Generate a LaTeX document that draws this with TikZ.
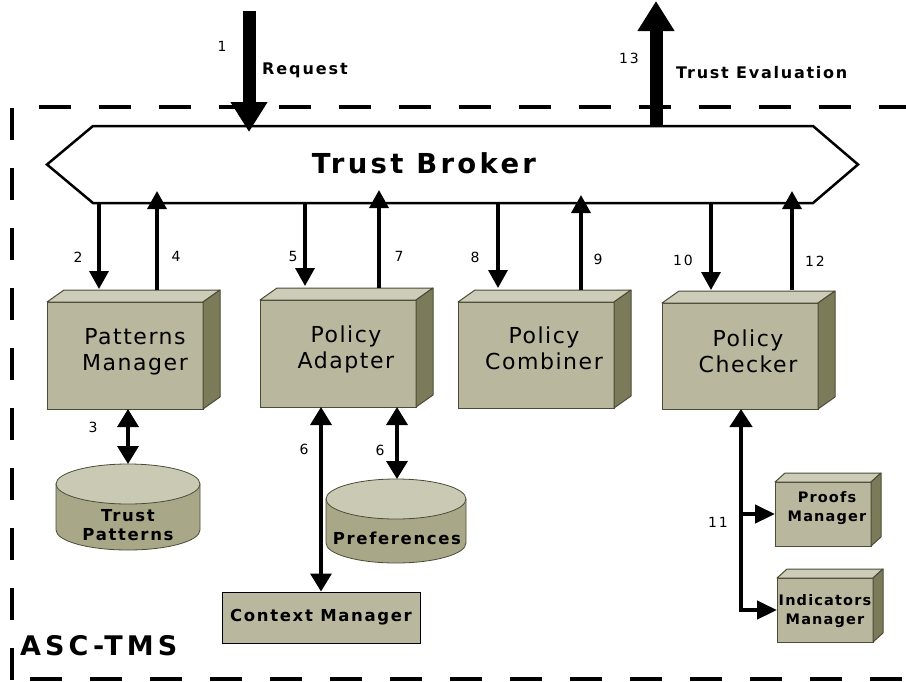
\documentclass[tikz,border=0pt]{standalone}
\usepackage{fontspec}
\setmainfont{DejaVu Sans}
\usetikzlibrary{arrows.meta,calc}
\definecolor{front}{RGB}{185,184,158}
\definecolor{topc}{RGB}{205,204,184}
\definecolor{sidec}{RGB}{124,123,89}
\definecolor{edge}{RGB}{75,75,56}
\definecolor{cyltop}{RGB}{202,202,180}
\definecolor{cylbody}{RGB}{168,168,136}
\newcommand\mkcube[3]{%
 \path[draw=edge,line width=1pt,fill=topc,line join=round] (#1.north west) -- ++(#2,-#3) -- ($(#1.north east)+(#2,-#3)$) -- (#1.north east) -- cycle;
 \path[draw=edge,line width=1pt,fill=sidec,line join=round] (#1.north east) -- ++(#2,-#3) -- ($(#1.south east)+(#2,-#3)$) -- (#1.south east) -- cycle;}
\newcommand\mkcyl[5]{% cx, left, right, ytop, ybot
 \path[draw=edge,line width=0.8pt,fill=cylbody] (#2,#4) -- (#2,#5) arc[start angle=180,end angle=0,x radius={(#3-#2)/2},y radius=20] -- (#3,#4) -- cycle;
 \path[draw=edge,line width=0.8pt,fill=cyltop] (#1,#4) ellipse[x radius={(#3-#2)/2},y radius=20];}
\begin{document}
\begin{tikzpicture}[x=1pt,y=-1pt,
  cubebox/.style={draw=edge,line width=1pt,fill=front,outer sep=0pt,inner sep=0pt},
  cubetext/.style={align=center,inner sep=0pt,font=\addfontfeature{LetterSpace=7}\fontsize{22}{26}\selectfont},
  smalltext/.style={align=center,inner sep=0pt,font=\addfontfeature{LetterSpace=8}\fontsize{14.5}{19}\selectfont\bfseries},
  sarrow/.style={line width=3.5pt,-{Triangle[width=19pt,length=18pt]}},
  darrow/.style={line width=3.5pt,{Triangle[width=21pt,length=18pt]}-{Triangle[width=21pt,length=18pt]}},
  barrow/.style={line width=13pt,-{Triangle[width=35pt,length=30pt]}},
  num/.style={font=\addfontfeature{LetterSpace=13}\fontsize{14}{16}\selectfont},
  blabel/.style={font=\addfontfeature{LetterSpace=10}\fontsize{16.5}{19}\selectfont\bfseries,align=center}]
\useasboundingbox (0,0) rectangle (906,681);
\begin{scope}
\clip (0,0) rectangle (906,681);
\draw[line width=4pt,dash pattern=on 32pt off 28pt] (12,680) -- (12,107) -- (930,107);
\draw[line width=4pt,dash pattern=on 32pt off 28pt] (30,679) -- (930,679);
\end{scope}
% Trust Broker
\node[minimum width=720,minimum height=77,inner sep=0pt,outer sep=0pt] (tb) at (453,164.5) {};
\draw[line width=2.5pt,line join=miter] (tb.north west) -- (tb.north east) -- (858,164.5) -- (tb.south east) -- (tb.south west) -- (47,164.5) -- cycle;
\node[font=\addfontfeature{LetterSpace=12}\bfseries\fontsize{27.5}{30}\selectfont,inner sep=0pt] (tbt) at (424,163) {Trust Broker};
% big arrows
\coordinate (rq) at (249,11);
\coordinate (te) at (656,1);
\draw[barrow] (rq) -- (249,132);
\draw[barrow] (656,0 |- tb.north) -- (te);
\node[num] (n1) at (222,46) {1};
\node[font=\addfontfeature{LetterSpace=12}\bfseries\fontsize{16}{18}\selectfont,anchor=west,inner sep=0pt] (lrq) at (262,70) {Request};
\node[num] (n13) at (629,58) {13};
\node[font=\addfontfeature{LetterSpace=11}\bfseries\fontsize{16}{18}\selectfont,anchor=west,inner sep=0pt] (lte) at (676,73) {Trust Evaluation};
% cubes
\node[cubebox,minimum width=156,minimum height=107] (pm) at (125,355.5) {};
\node[cubebox,minimum width=156,minimum height=107] (pa) at (338,353.5) {};
\node[cubebox,minimum width=156,minimum height=106] (pco) at (536,355) {};
\node[cubebox,minimum width=156,minimum height=106] (pch) at (740,356) {};
\mkcube{pm}{17}{12}
\mkcube{pa}{17}{12}
\mkcube{pco}{17}{12}
\mkcube{pch}{17}{12}
\node[cubetext] (pmt) at ($(pm)+(10,-4)$) {Patterns\\Manager};
\node[cubetext] (pat) at ($(pa)+(8,-4)$) {Policy\\Adapter};
\node[cubetext] (pcot) at ($(pco)+(8,-7)$) {Policy\\Combiner};
\node[cubetext] (pcht) at ($(pch)+(8,-5)$) {Policy\\Checker};
% broker arrows
\draw[sarrow] (99,0 |- tb.south) -- (99,289);
\draw[sarrow] (157,290) -- (157,191);
\draw[sarrow] (305,0 |- tb.south) -- (305,286);
\draw[sarrow] (379,288) -- (379,190);
\draw[sarrow] (498,0 |- tb.south) -- (498,288);
\draw[sarrow] (581,290) -- (581,195);
\draw[sarrow] (711,0 |- tb.south) -- (711,290);
\draw[sarrow] (792,290) -- (792,191);
\node[num] (n2) at (78,257) {2};
\node[num] (n4) at (176,256) {4};
\node[num] (n5) at (293,256) {5};
\node[num] (n7) at (399,256) {7};
\node[num] (n8) at (475,257) {8};
\node[num] (n9) at (598,259) {9};
\node[num] (n10) at (683,260) {10};
\node[num] (n12) at (815,261) {12};
% cylinders
\mkcyl{128}{56}{200}{484}{530}
\node[blabel,inner sep=0pt] (tpat) at (128,525) {Trust\\Patterns};
\mkcyl{396}{326}{466}{499}{543}
\node[blabel,inner sep=0pt] (pref) at (397,538) {Preferences};
% context manager
\node[draw=black,line width=1pt,fill=front,minimum width=198,minimum height=51,inner sep=0pt,blabel] (cm) at (321,617.5) {Context Manager};
% arrows 3, 6
\draw[darrow] (128,0 |- pm.south) -- (128,464);
\node[num] (n3) at (93,427) {3};
\draw[darrow] (321,0 |- pa.south) -- (321,0 |- cm.north);
\node[num] (n6a) at (304,449) {6};
\draw[darrow] (397,0 |- pa.south) -- (397,479);
\node[num] (n6b) at (380,450) {6};
% small cubes
\node[cubebox,minimum width=96,minimum height=64] (prm) at (823,514) {};
\node[cubebox,minimum width=96,minimum height=64] (inm) at (825,610) {};
\mkcube{prm}{10}{9}
\mkcube{inm}{10}{9}
\node[smalltext] (prmt) at ($(prm)+(4,-6)$) {Proofs\\Manager};
\node[smalltext] (inmt) at ($(inm)+(0,1)$) {Indicators\\Manager};
% arrow 11
\coordinate (b1) at (741,514);
\coordinate (b2) at (741,610);
\draw[line width=4.5pt,-{Triangle[width=22pt,length=18pt]}] (741,612) -- (741,0 |- pch.south);
\draw[line width=4.5pt,-{Triangle[width=18pt,length=20pt]}] (b1) -- (b1 -| prm.west);
\draw[line width=4.5pt,line join=miter,-{Triangle[width=18pt,length=20pt]}] (741,590) -- (b2) -- (b2 -| inm.west);
\node[num] (n11) at (718,522) {11};
% title
\node[font=\addfontfeature{LetterSpace=15}\fontsize{27}{30}\selectfont\bfseries,anchor=west,inner sep=0pt] (asc) at (20,646) {ASC-TMS};
\end{tikzpicture}
\end{document}
